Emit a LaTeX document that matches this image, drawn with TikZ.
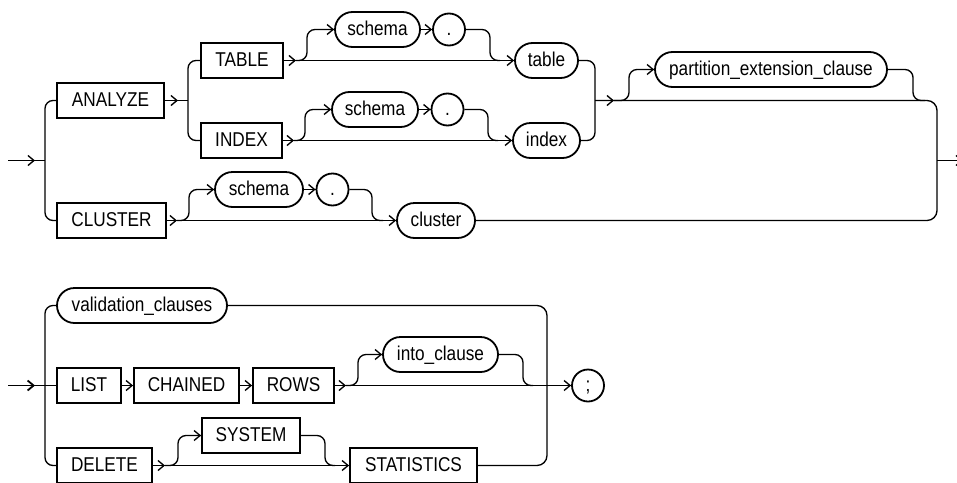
\documentclass[tikz,border=0pt]{standalone}
\usepackage{fontspec}
\setmainfont[FakeStretch=0.86]{Liberation Sans}
\usetikzlibrary{arrows.meta}
\tikzset{
  base/.style={draw,line width=1.8pt,inner sep=0pt,minimum height=35pt,
    text height=13pt,text depth=1pt,font=\fontsize{20}{20}\selectfont},
  kw/.style={base,rectangle},
  nt/.style={base,rectangle,rounded corners=17.5pt},
  dotc/.style={base,circle,minimum size=32pt,minimum height=32pt},
  ln/.style={line width=1.35pt},
  ar/.style={ln,-{Straight Barb[length=6pt,width=10pt]}},
  rc/.style={ln,rounded corners=8pt},
}
\newcommand{\tipto}[1]{\draw[ar] ([xshift=-7pt]#1) -- (#1);}
\begin{document}
\begin{tikzpicture}[x=1pt,y=-1pt]
\useasboundingbox (0,-0.5) rectangle (957,481.5);
\clip (0,-0.5) rectangle (957,481.5);
% ---------- top diagram ----------
\node[kw,minimum width=107pt] (ANALYZE) at (110.5,100) {ANALYZE};
\node[kw,minimum width=109pt] (CLUSTER) at (111.5,220) {CLUSTER};
\node[kw,minimum width=82pt] (TABLE) at (242,60) {TABLE};
\node[kw,minimum width=81pt] (INDEX) at (241.5,140) {INDEX};
\node[nt,minimum width=85pt] (schemaA) at (377.5,29) {schema};
\node[dotc] (dotA) at (449,29) {.};
\node[nt,minimum width=63pt] (table) at (546.5,60) {table};
\node[nt,minimum width=86pt] (schemaB) at (375,109) {schema};
\node[dotc] (dotB) at (447.5,109) {.};
\node[nt,minimum width=67pt] (index) at (546.5,140) {index};
\node[nt,minimum width=88pt] (schemaC) at (259,189) {schema};
\node[dotc] (dotC) at (332.5,189) {.};
\node[nt,minimum width=78pt] (cluster) at (436,220) {cluster};
\node[nt,minimum width=232pt] (pec) at (771,69) {partition\_extension\_clause};

\coordinate (inA) at (8,160);
\coordinate (inAt) at (35,160);
\draw[ln] (inA) -- (45,160);
\tipto{inAt}
\draw[rc] (ANALYZE.west) -- (45,100) -- (45,220) -- (CLUSTER.west);

\coordinate (an) at (178,100);
\draw[ln] (ANALYZE.east) -- (188,100);
\tipto{an}
\draw[rc] (TABLE.west) -- (188,60) -- (188,140) -- (INDEX.west);

% TABLE row
\coordinate (ta) at (296,60);
\draw[ln] (TABLE.east) -- (table.west);
\tipto{ta} \tipto{table.west}
\draw[rc] (ta) -- (307,60) -- (307,29) -- (schemaA.west);
\tipto{schemaA.west}
\draw[ln] (schemaA.east) -- (dotA.west);
\tipto{dotA.west}
\draw[rc] (dotA.east) -- (490,29) -- (490,60) -- (500,60);

% INDEX row
\coordinate (ia) at (294,140);
\draw[ln] (INDEX.east) -- (index.west);
\tipto{ia} \tipto{index.west}
\draw[rc] (ia) -- (305,140) -- (305,109) -- (schemaB.west);
\tipto{schemaB.west}
\draw[ln] (schemaB.east) -- (dotB.west);
\tipto{dotB.west}
\draw[rc] (dotB.east) -- (488,109) -- (488,140) -- (498,140);

% join
\draw[rc] (table.east) -- (595,60) -- (595,140) -- (index.east);
\coordinate (ja) at (614,100);
\tipto{ja}
\draw[rc] (ja) -- (629,100) -- (629,69) -- (pec.west);
\tipto{pec.west}
\draw[rc] (pec.east) -- (913,69) -- (913,100) -- (925,100);
\draw[ln,rounded corners=10pt] (595,100) -- (937,100) -- (937,220) -- (cluster.east);
\coordinate (outA) at (963,160);
\draw[ln] (937,160) -- (outA);
\tipto{outA}

% CLUSTER row
\coordinate (ca) at (177,220);
\draw[ln] (CLUSTER.east) -- (cluster.west);
\tipto{ca} \tipto{cluster.west}
\draw[rc] (ca) -- (189,220) -- (189,189) -- (schemaC.west);
\tipto{schemaC.west}
\draw[ln] (schemaC.east) -- (dotC.west);
\tipto{dotC.west}
\draw[rc] (dotC.east) -- (372,189) -- (372,220) -- (383,220);

% ---------- bottom diagram ----------
\node[nt,minimum width=170pt] (valid) at (142,305) {validation\_clauses};
\node[kw,minimum width=64pt] (LIST) at (89,385) {LIST};
\node[kw,minimum width=105pt] (CHAINED) at (186.5,385) {CHAINED};
\node[kw,minimum width=81pt] (ROWS) at (293.5,385) {ROWS};
\node[nt,minimum width=115pt] (into) at (440.5,354) {into\_clause};
\node[dotc] (semi) at (588,385) {;};
\node[kw,minimum width=95pt] (DELETE) at (104.5,465) {DELETE};
\node[kw,minimum width=98pt] (SYSTEM) at (251,435) {SYSTEM};
\node[kw,minimum width=127pt] (STAT) at (413.5,465) {STATISTICS};

\coordinate (inB) at (8,385);
\coordinate (inBt) at (35,385);
\draw[line width=1.8pt] (inB) -- (LIST.west);
\draw[ar,line width=1.8pt] ([xshift=-7pt]inBt) -- (inBt);
\draw[rc] (valid.west) -- (45,305) -- (45,465) -- (DELETE.west);
\draw[ln] (LIST.east) -- (CHAINED.west);
\tipto{CHAINED.west}
\draw[ln] (CHAINED.east) -- (ROWS.west);
\tipto{ROWS.west}

\coordinate (ra) at (346,385);
\draw[ln] (ROWS.east) -- (semi.west);
\tipto{ra} \tipto{semi.west}
\draw[rc] (ra) -- (358,385) -- (358,354) -- (into.west);
\tipto{into.west}
\draw[rc] (into.east) -- (523,354) -- (523,385) -- (533,385);
\draw[ln,rounded corners=10pt] (valid.east) -- (547,305) -- (547,465) -- (STAT.east);

\coordinate (da) at (165,465);
\draw[ln] (DELETE.east) -- (STAT.west);
\tipto{da} \tipto{STAT.west}
\draw[rc] (da) -- (178,465) -- (178,435) -- (SYSTEM.west);
\tipto{SYSTEM.west}
\draw[rc] (SYSTEM.east) -- (325,435) -- (325,465) -- (335,465);
\end{tikzpicture}
\end{document}
